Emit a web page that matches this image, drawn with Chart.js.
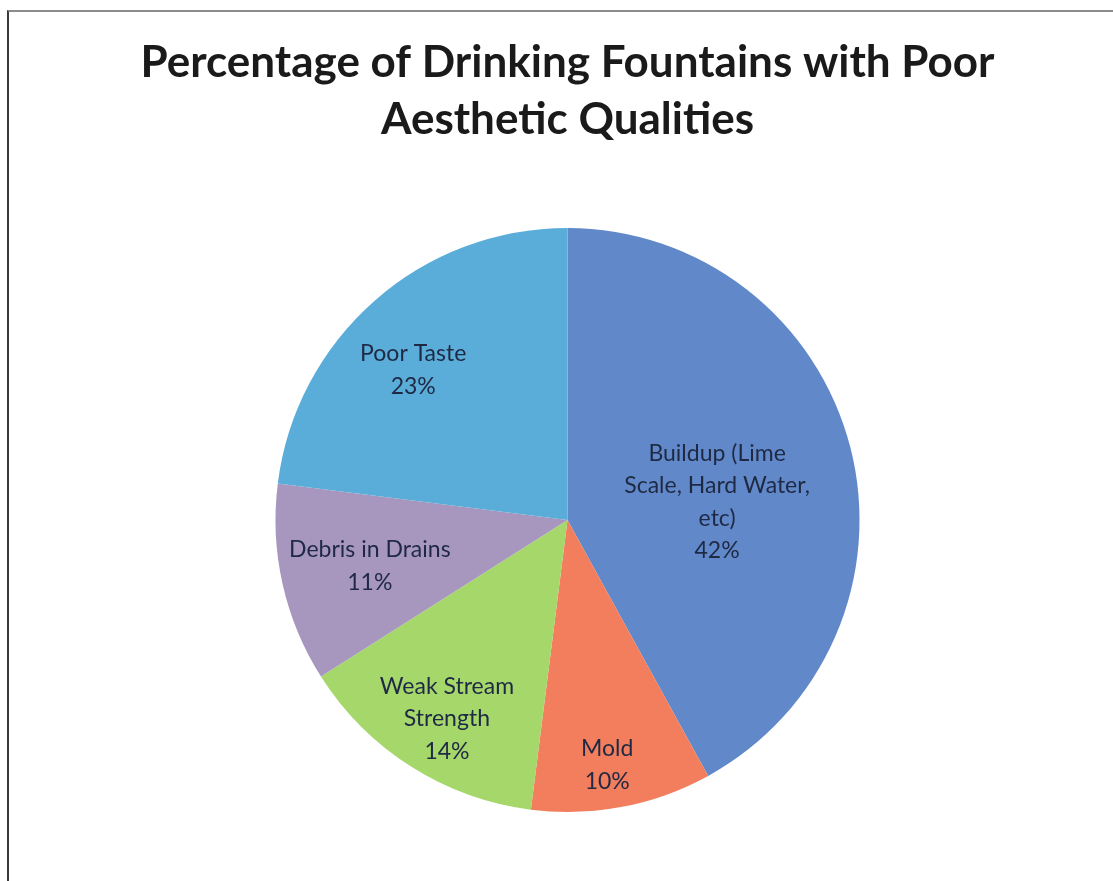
<!DOCTYPE html>
<html>
<head>
<meta charset="utf-8">
<script src="https://cdn.jsdelivr.net/npm/chart.js@4"></script>
<style>
  html, body { margin: 0; padding: 0; background: #fff; }
  body { width: 1113px; height: 881px; position: relative; overflow: hidden; }
  #frame {
    position: absolute; left: 7px; top: 10px; width: 1200px; height: 1000px;
    border-top: 2px solid #8c8c8c; border-left: 2px solid #3a3a3a;
  }
  #pieChart { position: absolute; left: 11px; top: 0; }
</style>
</head>
<body>
<div id="frame"></div>
<canvas id="pieChart" width="1113" height="881"></canvas>
<script>
// Datos
const titleLines = ['Percentage of Drinking Fountains with Poor', 'Aesthetic Qualities'];
const categories = [
    ['Buildup (Lime', 'Scale, Hard Water,', 'etc)'],
    ['Mold'],
    ['Weak Stream', 'Strength'],
    ['Debris in Drains'],
    ['Poor Taste']
];
const percents = [42, 10, 14, 11, 23];
const colors = ['#6189c9', '#f27e5d', '#a6d76b', '#a797be', '#5badd9'];

// etiquetas dentro de cada porcion
const sliceLabels = {
    id: 'sliceLabels',
    afterDatasetsDraw(chart, args, opts) {
        const ctx = chart.ctx;
        const meta = chart.getDatasetMeta(0);
        ctx.save();
        ctx.font = opts.font;
        ctx.fillStyle = opts.color;
        ctx.textAlign = 'center';
        ctx.textBaseline = 'middle';
        meta.data.forEach((arc, i) => {
            const p = arc.getProps(['x', 'y', 'startAngle', 'endAngle', 'outerRadius'], true);
            const mid = (p.startAngle + p.endAngle) / 2 + opts.turn[i] * Math.PI / 180;
            const r = p.outerRadius * opts.radius[i];
            const cx = p.x + Math.cos(mid) * r;
            const cy = p.y + Math.sin(mid) * r;
            const lines = [...categories[i], percents[i] + '%'];
            const top = cy - (lines.length - 1) * opts.lineHeight / 2;
            lines.forEach((t, j) => ctx.fillText(t, cx, top + j * opts.lineHeight));
        });
        ctx.restore();
    }
};

new Chart(document.getElementById('pieChart'), {
    type: 'pie',
    data: {
        labels: categories,
        datasets: [{
            data: percents,
            backgroundColor: colors,
            borderWidth: 0
        }]
    },
    options: {
        responsive: false,
        animation: false,
        layout: { padding: { left: 0, right: 0, top: 0, bottom: 69 } },
        plugins: {
            legend: { display: false },
            tooltip: { enabled: false },
            title: {
                display: true,
                text: titleLines,
                color: '#1a1a1a',
                font: { family: 'Lato', size: 44, weight: 'bold', lineHeight: 1.295 },
                padding: { top: 34.5, bottom: 79.5 }
            },
            sliceLabels: {
                font: '23px Lato',
                color: '#1f2944',
                lineHeight: 32.5,
                radius: [0.516, 0.85, 0.797, 0.695, 0.737],
                turn: [7.5, 1.6, -1.2, -0.5, -4.4]
            }
        }
    },
    plugins: [sliceLabels]
});
</script>
</body>
</html>
